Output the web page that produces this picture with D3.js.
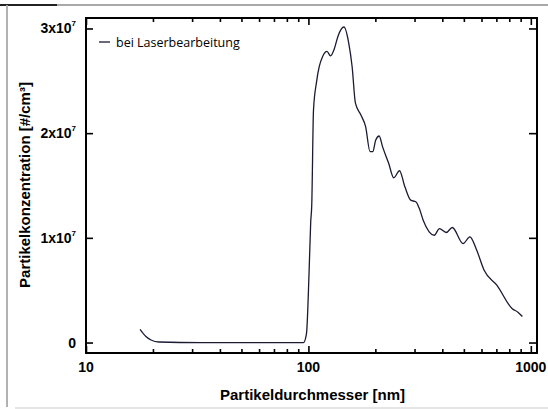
<!DOCTYPE html>
<html>
<head>
<meta charset="utf-8">
<script src="https://cdn.jsdelivr.net/npm/d3@7"></script>
<style>
  body { margin: 0; background: #fff; }
  svg { display: block; }
  .tick line { stroke: #000; stroke-width: 1.6px; }
  .domain { display: none; }
</style>
</head>
<body>
<svg></svg>
<script>
const [WIDTH, HEIGHT] = [548, 409]

// particle diameter in nm
const diameters = [17.5, 18.6, 19.6, 21.3, 33, 56, 95, 98, 100.7, 102.4, 103.5, 105.4,
    108.8, 111.9, 115.9, 121.2, 125.7, 131.1, 135.7, 144.5, 151.8, 157.2, 162.7,
    172.2, 180.8, 189.3, 194.6, 200.8, 208.1, 215.4, 229.5, 241.8, 256.8, 271.5,
    288.4, 303.9, 314.7, 328.1, 368.3, 388.2, 416.6, 443.6, 495.9, 532.1, 571.2,
    616.6, 704.6, 824.9, 875, 916.5]
// particle concentration in #/cm3
const concentrations = [1.25e6, 0.57e6, 0.24e6, 0.05e6, 0, 0, 0, 0.83e6, 6.73e6, 11.5e6,
    13.1e6, 22.2e6, 24.9e6, 26.37e6, 27.33e6, 27.81e6, 27.39e6, 28.13e6, 29.24e6,
    30.14e6, 28.61e6, 26.37e6, 22.86e6, 21.74e6, 20.62e6, 18.23e6, 18.23e6, 19.35e6,
    19.73e6, 18.71e6, 17.12e6, 15.74e6, 16.41e6, 14.88e6, 13.6e6, 13.44e6, 12.84e6,
    11.69e6, 10.25e6, 10.89e6, 10.51e6, 10.99e6, 9.45e6, 10.09e6, 8.81e6, 6.9e6,
    5.46e6, 3.23e6, 2.9e6, 2.49e6]

const xMajor = [10, 100, 1000]
const xMinor = [20, 30, 40, 50, 60, 70, 80, 90, 200, 300, 400, 500, 600, 700, 800, 900]
const yTicks = [0, 1e7, 2e7, 3e7]
const yTickLabels = ['0', '1x10', '2x10', '3x10']
const legendLabel = 'bei Laserbearbeitung'

const margin = { left: 86, right: 11, top: 18, bottom: 56 }

const svg = d3.select('svg')
    .attr('width', WIDTH)
    .attr('height', HEIGHT)

// scan frame around the figure
svg.append('line').attr('x1', 0).attr('x2', WIDTH).attr('y1', 5).attr('y2', 5)
    .attr('stroke', '#555').attr('stroke-width', 1.2)
svg.append('line').attr('x1', 0).attr('x2', 57).attr('y1', 5).attr('y2', 5)
    .attr('stroke', '#222').attr('stroke-width', 1.8)
svg.append('line').attr('x1', 7).attr('x2', 7).attr('y1', 5).attr('y2', 407)
    .attr('stroke', '#aaa').attr('stroke-width', 1.8)
svg.append('line').attr('x1', 15).attr('x2', WIDTH).attr('y1', 408).attr('y2', 408)
    .attr('stroke', '#ddd').attr('stroke-width', 1.5)

const x = d3.scaleLog()
    .domain([10, 1066])
    .range([margin.left, WIDTH - margin.right])

const y = d3.scaleLinear()
    .domain([-1.0e6, 3.1e7])
    .range([HEIGHT - margin.bottom, margin.top])

const [x0, x1] = x.range()
const [y0, y1] = y.range()

// ticks (all pointing inward)
svg.append('g').attr('transform', `translate(0,${y0})`)
    .call(d3.axisBottom(x).tickValues(xMajor).tickSize(-7).tickFormat(''))
svg.append('g').attr('transform', `translate(0,${y0})`)
    .call(d3.axisBottom(x).tickValues(xMinor).tickSize(-4).tickFormat(''))
svg.append('g').attr('transform', `translate(0,${y1})`)
    .call(d3.axisTop(x).tickValues(xMajor).tickSize(-7).tickFormat(''))
svg.append('g').attr('transform', `translate(0,${y1})`)
    .call(d3.axisTop(x).tickValues(xMinor).tickSize(-4).tickFormat(''))
svg.append('g').attr('transform', `translate(${x0},0)`)
    .call(d3.axisLeft(y).tickValues(yTicks).tickSize(-7).tickFormat(''))
svg.append('g').attr('transform', `translate(${x1},0)`)
    .call(d3.axisRight(y).tickValues(yTicks).tickSize(-8).tickFormat(''))

// plot box
svg.append('rect')
    .attr('x', x0).attr('y', y1)
    .attr('width', x1 - x0).attr('height', y0 - y1)
    .attr('fill', 'none').attr('stroke', '#000').attr('stroke-width', 2)

// x tick labels
svg.append('g').selectAll('text')
    .data(xMajor)
    .join('text')
    .attr('x', d => x(d))
    .attr('y', y0 + 19)
    .attr('text-anchor', 'middle')
    .attr('font-family', 'Liberation Sans, Arial, sans-serif')
    .attr('font-weight', 'bold')
    .attr('font-size', 14)
    .text(d => d)

// y tick labels with superscript exponent
const yLab = svg.append('g').selectAll('text')
    .data(yTicks)
    .join('text')
    .attr('x', x0 - 10)
    .attr('y', d => y(d) + 5)
    .attr('text-anchor', 'end')
    .attr('font-family', 'Liberation Sans, Arial, sans-serif')
    .attr('font-weight', 'bold')
    .attr('font-size', 14)
yLab.append('tspan').text((d, i) => yTickLabels[i])
yLab.filter(d => d > 0).append('tspan')
    .attr('dy', -7)
    .attr('font-size', 8)
    .text('7')

// axis titles
svg.append('text')
    .attr('x', (x0 + x1) / 2 + 1)
    .attr('y', 400)
    .attr('text-anchor', 'middle')
    .attr('font-family', 'Liberation Sans, Arial, sans-serif')
    .attr('font-weight', 'bold')
    .attr('font-size', 15)
    .text('Partikeldurchmesser [nm]')

svg.append('text')
    .attr('transform', `translate(30,${185}) rotate(-90)`)
    .attr('text-anchor', 'middle')
    .attr('font-family', 'Liberation Sans, Arial, sans-serif')
    .attr('font-weight', 'bold')
    .attr('font-size', 15)
    .text('Partikelkonzentration [#/cm³]')

// data line
const line = d3.line()
    .x(d => x(d[0]))
    .y(d => y(d[1]))
    .curve(d3.curveMonotoneX)

svg.append('path')
    .datum(d3.zip(diameters, concentrations))
    .attr('d', line)
    .attr('fill', 'none')
    .attr('stroke', '#1a1a33')
    .attr('stroke-width', 1.3)
    .attr('stroke-linejoin', 'round')

// legend
const legend = svg.append('g')
legend.append('line')
    .attr('x1', 99).attr('x2', 110).attr('y1', 42).attr('y2', 42)
    .attr('stroke', '#1a1a33').attr('stroke-width', 1.3)
legend.append('text')
    .attr('x', 116).attr('y', 46.5)
    .attr('font-family', 'Open Sans, sans-serif')
    .attr('font-size', 12.5)
    .text(legendLabel)
</script>
</body>
</html>
